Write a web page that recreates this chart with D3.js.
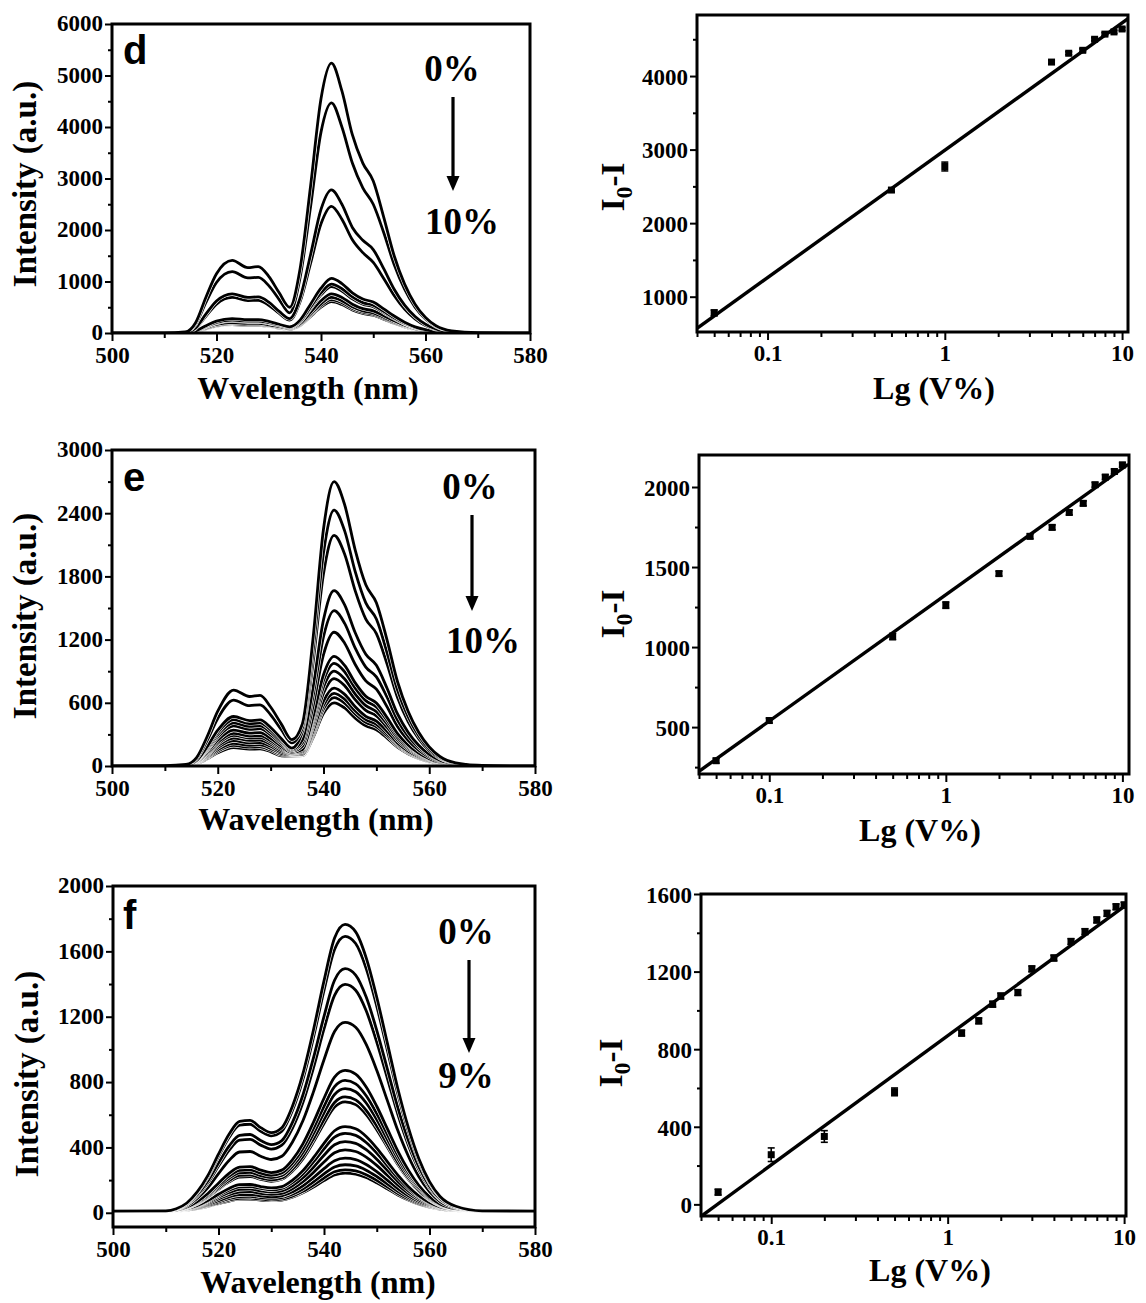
<!DOCTYPE html>
<html><head><meta charset="utf-8">
<script src="https://cdn.jsdelivr.net/npm/d3@7"></script>
<style>body{margin:0;background:#fff}</style>
</head><body>
<svg id="c" width="1146" height="1303" xmlns="http://www.w3.org/2000/svg"></svg>
<script>
// ---------------- DATA ----------------
// wavelength grid (nm) for panels d and e
const wlDE = [500,510,514,516,518,520,523,526,528,530,532,534,536,538,540,542,544,546,548,550,552,554,556,558,560,562,565,570,580];
// panel d spectra, 0% (top) ... 10% (bottom)
const specD = [
 [0,2,20,200,700,1150,1410,1270,1290,1100,780,500,1250,2850,4550,5240,4700,3850,3300,2950,2250,1500,950,560,300,140,40,5,0],
 [0,2,18,170,600,980,1190,1070,1080,920,650,390,1080,2450,3900,4470,4000,3300,2820,2500,1950,1330,850,500,270,125,36,4,0],
 [0,1,10,100,370,620,760,690,700,600,420,280,680,1520,2400,2780,2500,2050,1800,1620,1250,850,540,320,170,80,25,3,0],
 [0,1,9,90,330,560,690,630,635,540,380,250,610,1350,2120,2460,2210,1810,1560,1370,1060,730,465,275,145,68,20,2,0],
 [0,1,4,40,140,230,280,260,260,225,170,120,250,560,870,1060,960,780,660,600,470,330,210,120,65,30,10,1,0],
 [0,1,4,36,125,205,250,232,232,200,152,108,225,500,780,950,860,700,590,540,420,295,188,108,58,27,9,1,0],
 [0,1,3,34,118,195,238,220,220,190,144,102,215,475,740,900,815,662,560,510,400,280,178,102,55,25,8,1,0],
 [0,1,3,29,100,165,200,185,185,160,122,86,180,400,625,760,690,560,472,430,337,236,150,86,46,21,7,1,0],
 [0,1,3,26,90,150,182,168,168,146,110,78,165,365,567,690,626,508,430,390,306,214,136,78,42,19,6,1,0],
 [0,1,2,25,85,141,172,158,158,137,104,74,155,343,534,650,590,478,405,368,288,202,128,74,40,18,6,1,0],
 [0,1,2,23,80,132,161,148,148,129,97,69,145,322,501,610,553,449,380,345,270,189,120,69,37,17,5,1,0]
];
// panel e spectra, 0% (top) ... 10% (bottom)
const specE = [
 [0,3,15,80,280,520,720,660,670,560,400,250,400,1200,2250,2700,2480,2050,1720,1550,1200,800,520,320,180,90,30,5,0],
 [0,3,13,69,243,451,625,573,581,486,347,220,360,1080,2025,2430,2232,1845,1548,1395,1080,720,468,288,162,81,27,5,0],
 [0,2,10,52,183,340,470,431,437,366,261,170,325,973,1825,2190,2011,1663,1395,1257,973,649,422,260,146,73,24,4,0],
 [0,2,9,49,171,318,440,403,409,342,244,160,247,740,1388,1665,1530,1265,1061,956,740,494,321,197,111,56,19,3,0],
 [0,2,9,46,159,296,410,376,381,319,228,150,218,655,1229,1475,1354,1119,939,846,655,437,284,175,98,49,16,3,0],
 [0,2,8,42,148,274,380,348,354,296,211,140,188,564,1058,1270,1166,964,808,729,564,376,244,150,85,42,14,2,0],
 [0,1,7,38,132,245,340,312,316,264,189,130,154,462,866,1040,955,789,662,597,462,308,200,123,69,35,12,2,0],
 [0,1,6,34,121,224,310,284,289,241,172,125,144,433,812,975,895,740,621,560,433,289,188,116,65,32,11,2,0],
 [0,1,6,32,113,210,290,266,270,226,161,120,133,400,750,900,826,683,573,516,400,267,173,107,60,30,10,2,0],
 [0,1,6,29,103,191,265,243,246,206,147,115,123,369,691,830,762,630,528,476,369,246,160,98,55,28,9,2,0],
 [0,1,5,27,93,173,240,220,223,187,133,110,112,329,616,740,680,562,472,425,329,219,142,88,49,25,8,1,0],
 [0,1,4,24,84,155,215,197,200,167,120,105,110,307,575,690,634,524,440,396,307,205,133,82,46,23,8,1,0],
 [0,1,4,22,76,141,195,179,181,152,108,100,105,289,542,650,597,494,414,373,289,193,125,77,43,22,7,1,0],
 [0,1,4,19,68,126,175,160,163,136,97,95,98,267,500,600,551,455,382,344,267,178,116,71,40,20,7,1,0]
];
// wavelength grid (nm) for panel f
const wlF = [500,510,512,514,516,518,520,522,524,526,528,530,532,534,536,538,540,542,544,546,548,550,552,554,556,558,560,562,565,570,580];
// panel f spectra, 0% (top) ... 9% (bottom)
const specF = [
 [10,12,25,60,129,229,359,480,559,565,521,491,521,651,851,1119,1419,1681,1765,1719,1560,1319,1040,759,521,329,191,100,40,12,10],
 [10,12,24,58,124,220,345,461,536,542,499,471,499,624,816,1073,1361,1611,1692,1648,1495,1265,997,728,499,316,183,96,39,12,10],
 [10,11,23,52,111,196,305,408,474,479,442,417,442,552,721,948,1202,1423,1494,1455,1320,1117,881,644,442,280,163,86,35,11,10],
 [10,11,22,50,104,184,286,382,444,449,414,390,414,517,675,887,1125,1331,1398,1362,1236,1045,825,603,414,263,153,81,34,11,10],
 [10,11,20,43,89,154,240,320,372,375,346,326,346,432,563,740,937,1110,1165,1135,1030,872,688,503,346,220,129,69,30,11,10],
 [10,11,17,35,69,118,181,241,279,282,261,246,261,324,422,554,701,830,871,849,770,652,515,378,261,167,99,54,25,11,10],
 [10,11,17,33,64,110,169,224,260,263,243,229,243,302,393,516,652,772,810,789,716,607,480,352,243,156,92,51,24,11,10],
 [10,11,16,31,61,104,159,211,245,247,228,216,228,284,369,484,612,724,760,741,672,570,450,330,228,147,87,48,23,11,10],
 [10,11,16,30,58,97,149,197,229,231,213,202,213,265,345,452,571,675,709,691,627,531,420,308,213,137,82,46,22,11,10],
 [10,11,16,29,55,94,143,189,219,221,205,193,205,254,330,433,547,647,679,662,601,509,403,296,205,132,79,44,21,11,10],
 [10,11,14,25,45,75,113,149,172,173,160,152,160,199,258,337,425,502,527,514,467,396,313,231,160,104,63,36,19,11,10],
 [10,10,14,24,42,70,105,138,159,160,149,140,149,184,238,311,392,463,486,474,430,365,289,213,149,97,59,34,18,10,10],
 [10,10,14,22,39,63,95,124,143,145,134,127,134,165,214,279,352,416,436,425,386,328,260,192,134,88,54,32,17,10,10],
 [10,10,13,21,36,57,85,111,127,129,119,113,119,147,190,247,311,367,385,375,341,290,230,170,119,78,49,29,16,10,10],
 [10,10,13,19,32,51,74,97,111,112,104,99,104,128,165,215,270,318,334,326,296,252,200,148,104,69,43,27,16,10,10],
 [10,10,12,18,29,46,67,86,99,100,93,88,93,114,146,189,238,280,294,287,261,222,177,131,93,62,39,24,15,10,10],
 [10,10,12,17,27,42,60,78,89,90,84,79,84,102,131,170,213,251,263,256,233,199,159,118,84,56,36,23,14,10,10],
 [10,10,12,17,26,39,56,72,83,84,78,74,78,95,122,157,197,232,243,237,216,184,147,109,78,52,34,22,14,10,10]
];
// tick values
const wlTicks = [500,520,540,560,580];
const wlMinor = [510,530,550,570];
const yTicksD = [0,1000,2000,3000,4000,5000,6000];
const yTicksE = [0,600,1200,1800,2400,3000];
const yTicksF = [0,400,800,1200,1600,2000];
const logTicks = [0.1,1,10];
const logTickLabels = ["0.1","1","10"];
const logMinor = [0.04,0.05,0.06,0.07,0.08,0.09,0.2,0.3,0.4,0.5,0.6,0.7,0.8,0.9,2,3,4,5,6,7,8,9];
// calibration points (I0 - I vs volume %)
const volD = [0.05,0.5,1,4,5,6,7,8,9,10];
const dropD = [780,2450,2770,4190,4310,4350,4500,4570,4600,4640];
const errD = [40,25,60,25,20,20,20,20,20,20];
const fitD = [[0.04,570],[10.8,4780]];
const yTicksDR = [1000,2000,3000,4000];
const yMinorDR = [1500,2500,3500,4500];
const volE = [0.05,0.1,0.5,1,2,3,4,5,6,7,8,9,10];
const dropE = [290,541,1066,1262,1459,1692,1748,1841,1898,2014,2062,2097,2138];
const errE = [15,15,20,20,15,15,15,15,15,15,15,15,15];
const fitE = [[0.04,224],[10.8,2142]];
const yTicksER = [500,1000,1500,2000];
const yMinorER = [250,750,1250,1750];
const volF = [0.05,0.1,0.2,0.5,1.2,1.5,1.8,2,2.5,3,4,5,6,7,8,9,10];
const dropF = [63,256,350,580,883,946,1032,1074,1092,1214,1270,1355,1406,1466,1500,1534,1543];
const errF = [15,35,30,20,15,15,15,15,15,15,15,15,15,15,15,15,15];
const fitF = [[0.04,-62],[10.2,1541]];
const yTicksFR = [0,400,800,1200,1600];
const yMinorFR = [200,600,1000,1400];

// ---------------- DRAWING ----------------
const svg = d3.select("#c");
svg.append("rect").attr("width",1146).attr("height",1303).attr("fill","#fff");
const SERIF = "'Liberation Serif','Times New Roman',serif";
const SANS = "'Liberation Sans',Arial,sans-serif";

function styleAxis(g, fs) {
  g.select(".domain").remove();
  g.selectAll(".tick line").attr("stroke","#000").attr("stroke-width",2);
  g.selectAll(".tick text").attr("font-family",SERIF).attr("font-weight","bold")
    .attr("font-size",fs).attr("fill","#000");
}
function frame(x0,y0,x1,y1){
  svg.append("rect").attr("x",x0).attr("y",y0).attr("width",x1-x0).attr("height",y1-y0)
    .attr("fill","none").attr("stroke","#000").attr("stroke-width",3);
}
function boldText(x,y,str,fs,opts={}) {
  const t = svg.append("text").attr("x",x).attr("y",y).text(str)
    .attr("font-family",opts.family||SERIF).attr("font-weight","bold").attr("font-size",fs)
    .attr("text-anchor",opts.anchor||"middle").attr("fill","#000");
  if (opts.rotate) t.attr("transform",`rotate(-90,${x},${y})`);
  return t;
}
function arrow(x,y0,y1){
  svg.append("line").attr("x1",x).attr("x2",x).attr("y1",y0).attr("y2",y1-12)
    .attr("stroke","#000").attr("stroke-width",3.2);
  svg.append("path").attr("d",`M${x-6.5},${y1-15}L${x+6.5},${y1-15}L${x},${y1}Z`).attr("fill","#000");
}

function spectraPanel(p) {
  const x = d3.scaleLinear().domain([500,580]).range([p.x0,p.x1]);
  const y = d3.scaleLinear().domain(p.yDomain).range([p.y1,p.y0]);
  const clipId = "clip"+p.letter;
  svg.append("clipPath").attr("id",clipId).append("rect")
    .attr("x",p.x0).attr("y",p.y0).attr("width",p.x1-p.x0).attr("height",p.y1-p.y0);
  const g = svg.append("g").attr("clip-path",`url(#${clipId})`);
  const line = d3.line().x((d,i)=>x(p.wl[i])).y(d=>y(d)).curve(d3.curveMonotoneX);
  p.spec.slice().reverse().forEach(s=>{
    g.append("path").attr("d",line(s)).attr("fill","none").attr("stroke","#fff").attr("stroke-width",4.0);
    g.append("path").attr("d",line(s)).attr("fill","none").attr("stroke","#000").attr("stroke-width",2.8);
  });
  // axes
  const ax = svg.append("g").attr("transform",`translate(0,${p.y1})`)
    .call(d3.axisBottom(x).tickValues(wlTicks).tickFormat(d3.format("d")).tickSize(8).tickPadding(6));
  styleAxis(ax,23);
  const axm = svg.append("g").attr("transform",`translate(0,${p.y1})`)
    .call(d3.axisBottom(x).tickValues(wlMinor).tickFormat("").tickSize(5));
  styleAxis(axm,23);
  const ay = svg.append("g").attr("transform",`translate(${p.x0},0)`)
    .call(d3.axisLeft(y).tickValues(p.yTicks).tickFormat(d3.format("d")).tickSize(7).tickPadding(2));
  styleAxis(ay,23);
  ay.selectAll(".tick text").attr("dy","0.3em");
  const aym = svg.append("g").attr("transform",`translate(${p.x0},0)`)
    .call(d3.axisLeft(y).tickValues(p.yMinor).tickFormat("").tickSize(4));
  styleAxis(aym,23);
  frame(p.x0,p.y0,p.x1,p.y1);
  boldText(p.yTitleX,p.yTitleY,"Intensity (a.u.)",33,{rotate:true});
  boldText(p.xTitleX,p.xTitleY,p.xTitle,32);
  boldText(p.letterX,p.letterY,p.letter,40,{family:SANS,anchor:"start"});
  boldText(p.lblX1,p.lblY1,"0%",37);
  arrow(p.arrX,p.arrY0,p.arrY1);
  boldText(p.lblX2,p.lblY2,p.endLabel,37);
}

function fitPanel(p) {
  const x = d3.scaleLog().domain(p.xDomain).range([p.x0,p.x1]);
  const y = d3.scaleLinear().domain(p.yDomain).range([p.y1,p.y0]);
  const clipId = "clipR"+p.id;
  svg.append("clipPath").attr("id",clipId).append("rect")
    .attr("x",p.x0).attr("y",p.y0).attr("width",p.x1-p.x0).attr("height",p.y1-p.y0);
  const g = svg.append("g").attr("clip-path",`url(#${clipId})`);
  g.append("line").attr("x1",x(p.fit[0][0])).attr("y1",y(p.fit[0][1]))
    .attr("x2",x(p.fit[1][0])).attr("y2",y(p.fit[1][1])).attr("stroke","#000").attr("stroke-width",3.4);
  p.vol.forEach((v,i)=>{
    const cx = x(v), cy = y(p.drop[i]), e = p.err[i];
    const y0 = y(p.drop[i]-e), y1 = y(p.drop[i]+e);
    g.append("line").attr("x1",cx).attr("x2",cx).attr("y1",y0).attr("y2",y1).attr("stroke","#000").attr("stroke-width",1.6);
    g.append("line").attr("x1",cx-3.5).attr("x2",cx+3.5).attr("y1",y0).attr("y2",y0).attr("stroke","#000").attr("stroke-width",1.6);
    g.append("line").attr("x1",cx-3.5).attr("x2",cx+3.5).attr("y1",y1).attr("y2",y1).attr("stroke","#000").attr("stroke-width",1.6);
    g.append("rect").attr("x",cx-3.5).attr("y",cy-3.5).attr("width",7).attr("height",7).attr("fill","#000");
  });
  const ax = svg.append("g").attr("transform",`translate(0,${p.y1})`)
    .call(d3.axisBottom(x).tickValues(logTicks).tickFormat((d,i)=>logTickLabels[i]).tickSize(8).tickPadding(5));
  styleAxis(ax,23);
  const axm = svg.append("g").attr("transform",`translate(0,${p.y1})`)
    .call(d3.axisBottom(x).tickValues(logMinor.filter(v=>v>=p.xDomain[0]&&v<=p.xDomain[1])).tickFormat("").tickSize(5));
  styleAxis(axm,23);
  const ay = svg.append("g").attr("transform",`translate(${p.x0},0)`)
    .call(d3.axisLeft(y).tickValues(p.yTicks).tickFormat(d3.format("d")).tickSize(7).tickPadding(2));
  styleAxis(ay,23);
  ay.selectAll(".tick text").attr("dy","0.36em");
  const aym = svg.append("g").attr("transform",`translate(${p.x0},0)`)
    .call(d3.axisLeft(y).tickValues(p.yMinor).tickFormat("").tickSize(4));
  styleAxis(aym,23);
  frame(p.x0,p.y0,p.x1,p.y1);
  // y title I0-I
  const t = svg.append("text").attr("x",p.yTitleX).attr("y",p.yTitleY)
    .attr("font-family",SERIF).attr("font-weight","bold").attr("font-size",33)
    .attr("text-anchor","middle").attr("fill","#000")
    .attr("transform",`rotate(-90,${p.yTitleX},${p.yTitleY})`);
  t.append("tspan").text("I");
  t.append("tspan").attr("dy",8).attr("font-size",24).text("0");
  t.append("tspan").attr("dy",-8).text("-I");
  boldText(p.xTitleX,p.xTitleY,"Lg (V%)",32);
}

spectraPanel({letter:"d", wl:wlDE, spec:specD, x0:112, x1:530, y0:24, y1:333, yDomain:[0,6000],
  yTicks:yTicksD, yMinor:[500,1500,2500,3500,4500,5500], xTitle:"Wvelength (nm)",
  yTitleX:36, yTitleY:184, xTitleX:308, xTitleY:399, letterX:123, letterY:64,
  lblX1:452, lblY1:81, arrX:453, arrY0:97, arrY1:191, lblX2:462, lblY2:234, endLabel:"10%"});
spectraPanel({letter:"e", wl:wlDE, spec:specE, x0:112, x1:535, y0:450, y1:766, yDomain:[0,3000],
  yTicks:yTicksE, yMinor:[300,900,1500,2100,2700], xTitle:"Wavelength (nm)",
  yTitleX:36, yTitleY:616, xTitleX:316, xTitleY:830, letterX:123, letterY:491,
  lblX1:470, lblY1:499, arrX:472, arrY0:515, arrY1:611, lblX2:483, lblY2:653, endLabel:"10%"});
spectraPanel({letter:"f", wl:wlF, spec:specF, x0:113, x1:535, y0:886, y1:1227, yDomain:[-87,2000],
  yTicks:yTicksF, yMinor:[200,600,1000,1400,1800], xTitle:"Wavelength (nm)",
  yTitleX:38, yTitleY:1074, xTitleX:318, xTitleY:1293, letterX:123, letterY:929,
  lblX1:466, lblY1:944, arrX:469, arrY0:960, arrY1:1053, lblX2:466, lblY2:1088, endLabel:"9%"});

fitPanel({id:"d", x0:697, x1:1128, y0:15, y1:332, xDomain:[0.04,10.8], yDomain:[520,4830],
  yTicks:yTicksDR, yMinor:yMinorDR, vol:volD, drop:dropD, err:errD, fit:fitD,
  yTitleX:624, yTitleY:187, xTitleX:934, xTitleY:399});
fitPanel({id:"e", x0:699, x1:1129, y0:455, y1:774, xDomain:[0.04,10.9], yDomain:[207,2200],
  yTicks:yTicksER, yMinor:yMinorER, vol:volE, drop:dropE, err:errE, fit:fitE,
  yTitleX:624, yTitleY:614, xTitleX:920, xTitleY:841});
fitPanel({id:"f", x0:701, x1:1126, y0:894, y1:1216, xDomain:[0.04,10.25], yDomain:[-60,1600],
  yTicks:yTicksFR, yMinor:yMinorFR, vol:volF, drop:dropF, err:errF, fit:fitF,
  yTitleX:622, yTitleY:1063, xTitleX:930, xTitleY:1281});
</script>
</body></html>
